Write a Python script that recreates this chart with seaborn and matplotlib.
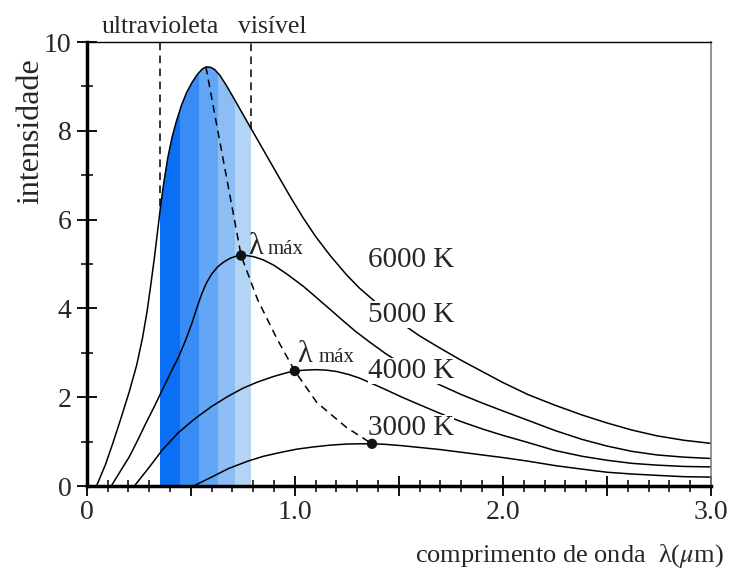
import numpy as np
import pandas as pd
import matplotlib
matplotlib.use('Agg')
import matplotlib.pyplot as plt
from matplotlib.ticker import MultipleLocator
import seaborn as sns

# curves (wavelength in um, intensity)
x_6000 = [0.047, 0.09, 0.126, 0.165, 0.205, 0.24, 0.268, 0.29, 0.308, 0.325,
          0.34, 0.355, 0.372, 0.39, 0.41, 0.43, 0.455, 0.48, 0.505, 0.53,
          0.555, 0.575, 0.595, 0.615, 0.64, 0.67, 0.70, 0.74, 0.79, 0.85,
          0.916, 0.98, 1.04, 1.10, 1.17, 1.248, 1.31, 1.374, 1.45, 1.517,
          1.60, 1.70, 1.80, 1.90, 2.0, 2.12, 2.25, 2.38, 2.5, 2.62,
          2.74, 2.87, 3.0]
y_6000 = [0, 0.48, 0.97, 1.53, 2.13, 2.72, 3.33, 3.93, 4.53, 5.13,
          5.71, 6.3, 6.88, 7.4, 7.85, 8.2, 8.57, 8.86, 9.08, 9.26,
          9.39, 9.44, 9.43, 9.38, 9.25, 9.03, 8.79, 8.46, 8.05, 7.56,
          7.02, 6.50, 6.04, 5.62, 5.19, 4.76, 4.46, 4.2, 3.90, 3.65,
          3.38, 3.10, 2.83, 2.58, 2.33, 2.06, 1.82, 1.60, 1.42, 1.26,
          1.13, 1.03, 0.96]

x_5000 = [0.118, 0.16, 0.205, 0.245, 0.284, 0.325, 0.363, 0.40, 0.442, 0.475,
          0.505, 0.53, 0.553, 0.575, 0.60, 0.63, 0.66, 0.69, 0.72, 0.742,
          0.77, 0.806, 0.85, 0.90, 0.96, 1.043, 1.10, 1.169, 1.23, 1.29,
          1.36, 1.437, 1.52, 1.60, 1.70, 1.80, 1.90, 2.0, 2.12, 2.25,
          2.38, 2.5, 2.62, 2.74, 2.87, 3.0]
y_5000 = [0, 0.32, 0.66, 1.03, 1.41, 1.79, 2.16, 2.52, 2.91, 3.28,
          3.66, 4.02, 4.33, 4.57, 4.77, 4.94, 5.05, 5.13, 5.18, 5.19,
          5.19, 5.16, 5.09, 4.97, 4.78, 4.49, 4.26, 3.98, 3.73, 3.49,
          3.24, 2.98, 2.73, 2.51, 2.27, 2.06, 1.87, 1.69, 1.48, 1.25,
          1.05, 0.90, 0.78, 0.70, 0.65, 0.62]

x_4000 = [0.229, 0.30, 0.363, 0.44, 0.521, 0.60, 0.679, 0.75, 0.82, 0.90,
          0.96, 1.0, 1.05, 1.10, 1.15, 1.2, 1.26, 1.311, 1.37, 1.437,
          1.52, 1.595, 1.68, 1.753, 1.83, 1.911, 2.0, 2.12, 2.25, 2.38,
          2.5, 2.62, 2.74, 2.87, 3.0]
y_4000 = [0, 0.42, 0.81, 1.2, 1.52, 1.79, 2.02, 2.2, 2.34, 2.47,
          2.55, 2.59, 2.61, 2.62, 2.61, 2.58, 2.51, 2.43, 2.31, 2.17,
          1.99, 1.84, 1.67, 1.53, 1.40, 1.27, 1.14, 0.98, 0.80, 0.67,
          0.58, 0.51, 0.47, 0.44, 0.43]

x_3000 = [0.513, 0.60, 0.68, 0.774, 0.85, 0.93, 1.01, 1.09, 1.17, 1.25,
          1.31, 1.371, 1.43, 1.51, 1.595, 1.70, 1.80, 1.90, 2.0, 2.12,
          2.25, 2.38, 2.5, 2.62, 2.74, 2.87, 3.0]
y_3000 = [0, 0.2, 0.39, 0.56, 0.67, 0.755, 0.83, 0.88, 0.92, 0.945,
          0.95, 0.95, 0.94, 0.91, 0.87, 0.82, 0.76, 0.70, 0.64, 0.56,
          0.46, 0.38, 0.31, 0.27, 0.24, 0.21, 0.20]

# dashed locus of the maxima and the marked points
wien_x = [0.573, 0.62, 0.68, 0.742, 0.821, 0.916, 1.0, 1.106, 1.248, 1.371]
wien_y = [9.44, 8.25, 6.75, 5.19, 4.2, 3.3, 2.59, 1.88, 1.32, 0.95]
dot_x = [0.742, 1.0, 1.371]
dot_y = [5.19, 2.59, 0.95]

# coloured bands and the two dashed dividers
band_edges = [0.353, 0.447, 0.542, 0.632, 0.713, 0.79]
band_colors = ['#0a6ff5', '#3a8cf5', '#62a6f6', '#8cbef5', '#b4d4f4']
divider_x = [0.353, 0.79]
divider_bottom = [6.3, 8.05]

temps = ['6000 K', '5000 K', '4000 K', '3000 K']
temp_label_x = [1.351, 1.351, 1.351, 1.351]
temp_label_y = [4.94, 3.70, 2.43, 1.15]

sns.set_style('ticks')
plt.rcParams['font.family'] = ['Liberation Serif', 'DejaVu Serif']
plt.rcParams['mathtext.fontset'] = 'stix'

df = pd.concat([
    pd.DataFrame({'lam': xs, 'inten': ys, 'T': t})
    for t, xs, ys in zip(temps, [x_6000, x_5000, x_4000, x_3000],
                         [y_6000, y_5000, y_4000, y_3000])
])

fig = plt.figure(figsize=(7.29, 5.74), dpi=100)
ax = fig.add_axes([86.7 / 729, 1 - 486 / 574, (711 - 86.7) / 729, (486 - 42) / 574])

# bands clipped under the 6000 K curve
under = ax.fill_between(x_6000, y_6000, 0, facecolor='none', edgecolor='none')
clip = under.get_paths()[0]
for i, c in enumerate(band_colors):
    span = ax.axvspan(band_edges[i], band_edges[i + 1], color=c, lw=0, zorder=1)
    span.set_clip_path(clip, ax.transData)

ax.vlines(divider_x, divider_bottom, 10, colors='black', lw=1.1,
          linestyles=(0, (5, 3.5)), zorder=2)

sns.lineplot(data=df, x='lam', y='inten', units='T', estimator=None, sort=False,
             color='black', lw=1.1, ax=ax, zorder=3)
sns.lineplot(x=wien_x, y=wien_y, sort=False, color='black', lw=1.1,
             linestyle=(0, (5, 3.5)), ax=ax, zorder=3)
sns.scatterplot(x=dot_x, y=dot_y, color='#111111', s=55, edgecolor='none',
                zorder=5, ax=ax)

# labels on the plot
for t, tx, ty in zip(temps, temp_label_x, temp_label_y):
    ax.text(tx, ty, t, fontsize=21, va='baseline', ha='left', zorder=4,
            bbox=dict(facecolor='white', edgecolor='none', pad=0.3))
ax.text(0.775, 5.22, 'λ', fontsize=22, va='baseline', zorder=4)
ax.text(0.87, 5.22, 'máx', fontsize=15, va='baseline', zorder=4)
ax.text(1.011, 2.79, 'λ', fontsize=22, va='baseline', zorder=4)
ax.text(1.112, 2.79, 'máx', fontsize=15, va='baseline', zorder=4)

trans = ax.get_xaxis_transform()
ax.text(0.353, 1.02, 'ultravioleta', transform=trans, ha='center',
        va='baseline', fontsize=18.5)
ax.text(0.89, 1.02, 'visível', transform=trans, ha='center',
        va='baseline', fontsize=18.5)

ax.set_xlim(0, 3)
ax.set_ylim(0, 10)
ax.set_xlabel('')
ax.set_ylabel('intensidade', fontsize=23)
ax.yaxis.set_label_coords(-0.066, 0.80)
fig.text(724 / 729, 1 - 562 / 574, 'comprimento de onda  λ($\\mu$m)',
         ha='right', va='baseline', fontsize=19)

ax.set_xticks(np.arange(0, 3.01, 0.5))
ax.set_xticklabels(['0', '', '1.0', '', '2.0', '', '3.0'])
ax.xaxis.set_minor_locator(MultipleLocator(0.1))
ax.set_yticks([0, 2, 4, 6, 8, 10])
ax.set_yticklabels(['0', '2', '4', '6', '8', '10'])
ax.yaxis.set_minor_locator(MultipleLocator(1))

ax.tick_params(axis='both', which='major', direction='inout', length=14,
               width=1.3, labelsize=20, color='black')
ax.tick_params(axis='both', which='minor', direction='inout', length=9,
               width=1.1, color='black')
ax.tick_params(axis='x', which='major', pad=3)
ax.tick_params(axis='y', which='major', pad=4)

for side in ['left', 'bottom']:
    ax.spines[side].set_linewidth(2.5)
    ax.spines[side].set_color('black')
ax.spines['top'].set_linewidth(1.0)
ax.spines['top'].set_color('black')
ax.spines['right'].set_linewidth(1.2)
ax.spines['right'].set_color('#808080')
for s in ax.spines.values():
    s.set_zorder(6)

fig.savefig('out.png', dpi=100)
